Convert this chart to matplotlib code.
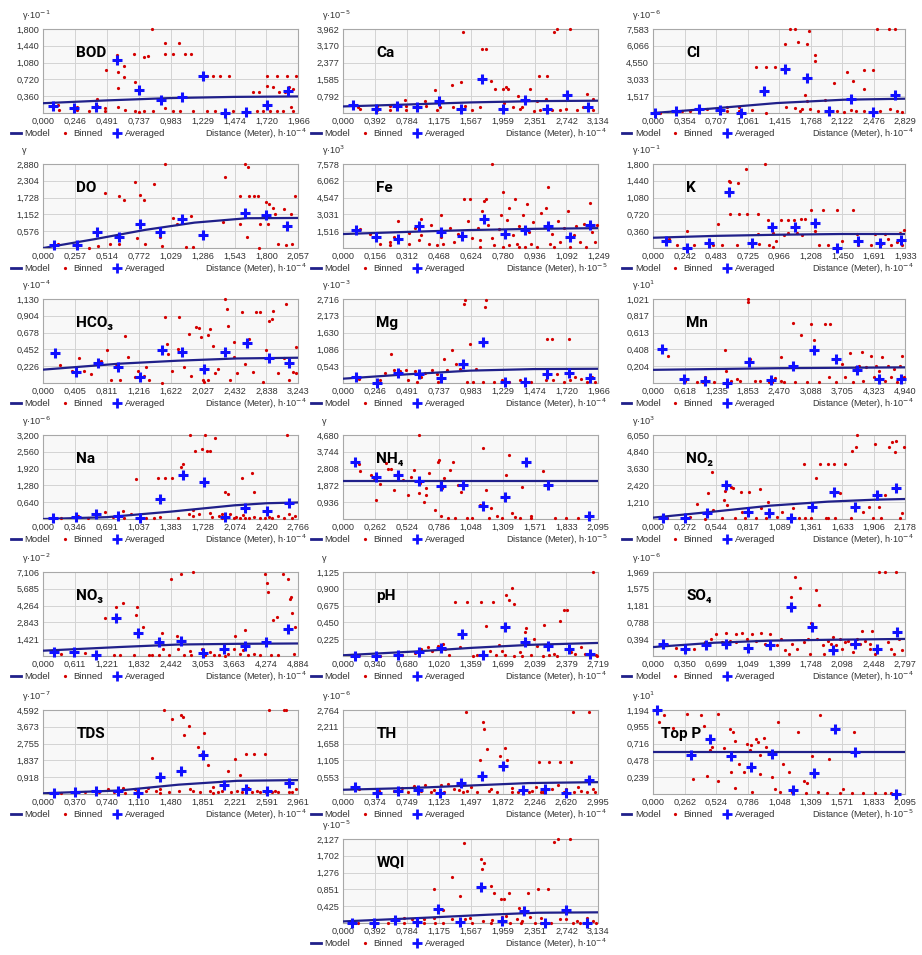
import matplotlib
matplotlib.use("Agg")
import matplotlib.pyplot as plt
from matplotlib.lines import Line2D

# =============================
# Dados (unidades escaladas como nos eixos)
# =============================
BOD_model = [(0, 0.21), (0.49, 0.27), (0.98, 0.32), (1.47, 0.345), (1.966, 0.355)]
BOD_avg = [(0.072, 0.157), (0.236, 0.107), (0.406, 0.128), (0.571, 1.138), (0.738, 0.484), (0.905, 0.285),
           (1.067, 0.342), (1.229, 0.797), (1.401, 0.0), (1.563, 0.021), (1.722, 0.178), (1.889, 0.463)]
BOD_bin = [(0.116, 0.178), (0.123, 0.071), (0.257, 0.128), (0.262, 0.071), (0.355, 0.036), (0.411, 0.299),
           (0.416, 0.142), (0.475, 0.107), (0.475, 0.050), (0.483, 0.925), (0.571, 1.245), (0.573, 0.889),
           (0.576, 0.534), (0.578, 0.128), (0.625, 1.017), (0.625, 0.761), (0.630, 0.071), (0.702, 1.266),
           (0.704, 0.655), (0.707, 0.050), (0.740, 0.014), (0.776, 1.210), (0.779, 0.036), (0.810, 1.231),
           (0.840, 1.800), (0.848, 0.036), (0.935, 1.508), (0.935, 1.266), (0.938, 0.107), (0.997, 1.266),
           (0.997, 0.036), (1.049, 1.508), (1.054, 0.050), (1.095, 1.266), (1.139, 1.266), (1.151, 0.050),
           (1.259, 0.797), (1.311, 0.797), (1.362, 0.797), (1.434, 0.797), (1.259, 0.036), (1.324, 0.036),
           (1.465, 0.036), (1.619, 0.441), (1.665, 0.441), (1.722, 0.797), (1.727, 0.583), (1.773, 0.555),
           (1.799, 0.797), (1.820, 0.441), (1.863, 0.441), (1.876, 0.797), (1.892, 0.555), (1.922, 0.512),
           (1.945, 0.797), (1.645, 0.036), (1.696, 0.036), (1.748, 0.036), (1.799, 0.036), (1.850, 0.036),
           (1.928, 0.036), (1.907, 0.121)]

CA_model = [(0, 0.31), (0.78, 0.40), (1.57, 0.50), (2.35, 0.56), (3.134, 0.58)]
CA_avg = [(0.123, 0.39), (0.401, 0.19), (0.656, 0.31), (0.910, 0.28), (1.176, 0.55), (1.442, 0.19),
          (1.700, 1.61), (1.967, 0.19), (2.233, 0.63), (2.499, 0.19), (2.753, 0.86), (3.011, 0.28)]
CA_bin = [(0.18, 0.28), (0.20, 0.19), (0.41, 0.31), (0.42, 0.13), (0.57, 0.34), (0.57, 0.13), (0.66, 0.23),
          (0.76, 0.63), (0.77, 0.31), (0.77, 0.13), (0.91, 0.19), (1.00, 0.55), (1.02, 0.31), (1.13, 1.10),
          (1.15, 0.16), (1.19, 0.28), (1.34, 1.33), (1.35, 0.28), (1.45, 1.44), (1.47, 3.84), (1.50, 0.31),
          (1.58, 0.16), (1.68, 0.28), (1.71, 3.01), (1.75, 3.01), (1.82, 1.53), (1.86, 1.13), (1.92, 0.19),
          (1.96, 1.13), (1.97, 0.47), (2.00, 1.22), (2.03, 1.13), (2.09, 0.28), (2.15, 0.81), (2.17, 0.19),
          (2.20, 0.28), (2.29, 1.13), (2.34, 0.08), (2.40, 1.75), (2.38, 0.55), (2.50, 1.75), (2.49, 0.66),
          (2.42, 0.16), (2.59, 3.84), (2.63, 3.96), (2.66, 0.16), (2.79, 3.96), (2.74, 0.19), (2.87, 0.16),
          (2.99, 0.89), (3.07, 0.66), (3.07, 0.13), (2.95, 0.28), (2.56, 0.13)]

CL_model = [(0, 0.0), (0.64, 0.39), (1.39, 0.90), (2.14, 1.20), (2.829, 1.29)]
CL_avg = [(0.02, 0.0), (0.26, 0.15), (0.51, 0.39), (0.75, 0.24), (0.99, 0.0), (1.24, 2.01),
          (1.48, 3.99), (1.73, 3.15), (1.97, 0.15), (2.22, 1.29), (2.47, 0.09), (2.71, 1.65)]
CL_bin = [(0.07, 0.0), (0.32, 0.15), (0.41, 0.21), (0.51, 0.51), (0.60, 0.39), (0.71, 0.30), (0.83, 0.51),
          (0.83, 0.15), (0.96, 0.51), (0.96, 0.15), (1.11, 0.30), (1.15, 4.11), (1.27, 4.11), (1.37, 4.11),
          (1.26, 0.0), (1.48, 6.20), (1.49, 0.51), (1.53, 7.58), (1.59, 7.58), (1.63, 6.44), (1.67, 0.39),
          (1.75, 7.40), (1.73, 6.20), (1.70, 1.59), (1.73, 1.05), (1.76, 0.39), (1.82, 5.24), (1.82, 4.65),
          (1.93, 1.20), (1.97, 0.45), (2.03, 2.70), (2.06, 0.15), (2.14, 0.09), (2.17, 3.69), (2.24, 2.85),
          (2.22, 0.30), (2.28, 0.15), (2.37, 2.19), (2.37, 3.90), (2.36, 0.15), (2.47, 3.90), (2.51, 7.58),
          (2.55, 0.15), (2.65, 7.58), (2.71, 7.58), (2.66, 0.39), (2.74, 0.15), (2.79, 0.09), (1.85, 0.15),
          (1.59, 0.45), (1.65, 0.15)]

DO_model = [(0, 0.0), (0.41, 0.30), (0.82, 0.62), (1.22, 0.87), (1.64, 1.02), (2.057, 1.03)]
DO_avg = [(0.09, 0.09), (0.27, 0.09), (0.43, 0.56), (0.61, 0.39), (0.78, 0.82), (0.94, 0.56),
          (1.12, 1.00), (1.29, 0.44), (1.63, 1.21), (1.80, 1.12), (1.97, 0.74)]
DO_bin = [(0.12, 0.15), (0.27, 0.18), (0.37, 0.01), (0.44, 0.06), (0.50, 1.89), (0.54, 0.13), (0.61, 1.79),
          (0.61, 0.15), (0.65, 1.65), (0.74, 2.28), (0.78, 1.82), (0.81, 1.65), (0.76, 0.33), (0.82, 0.13),
          (0.89, 2.20), (0.94, 0.39), (0.96, 0.08), (0.98, 2.88), (1.05, 1.03), (1.08, 0.83), (1.15, 0.04),
          (1.19, 1.11), (1.21, 0.04), (1.45, 0.88), (1.47, 2.44), (1.59, 1.79), (1.63, 2.88), (1.65, 2.79),
          (1.64, 0.39), (1.66, 1.79), (1.70, 1.79), (1.73, 1.79), (1.75, 0.83), (1.80, 1.56), (1.82, 1.50),
          (1.85, 1.38), (1.87, 1.15), (1.89, 0.15), (1.94, 1.32), (1.96, 0.09), (2.01, 0.13), (2.03, 1.79),
          (2.00, 1.15), (1.81, 0.83), (1.59, 0.83), (1.74, 0.01)]

FE_model = [(0, 1.26), (0.31, 1.45), (0.62, 1.62), (0.94, 1.73), (1.249, 1.79)]
FE_avg = [(0.06, 1.63), (0.16, 1.02), (0.27, 0.77), (0.37, 1.94), (0.48, 1.48), (0.58, 1.08),
          (0.69, 2.62), (0.79, 1.26), (0.89, 1.63), (1.00, 1.94), (1.11, 1.02), (1.21, 2.03)]
FE_bin = [(0.08, 1.69), (0.13, 1.26), (0.23, 0.55), (0.23, 0.25), (0.25, 1.02), (0.27, 2.40), (0.32, 1.32),
          (0.35, 1.79), (0.37, 0.71), (0.38, 2.62), (0.38, 1.17), (0.42, 0.40), (0.43, 2.09), (0.48, 3.02),
          (0.48, 1.02), (0.49, 0.40), (0.52, 1.79), (0.54, 0.55), (0.56, 1.26), (0.59, 4.40), (0.61, 2.40),
          (0.62, 4.40), (0.63, 0.86), (0.66, 1.79), (0.67, 0.71), (0.68, 3.33), (0.69, 4.25), (0.70, 4.40),
          (0.71, 2.09), (0.73, 7.58), (0.73, 0.86), (0.74, 0.25), (0.76, 1.69), (0.77, 3.02), (0.78, 5.02),
          (0.80, 2.56), (0.81, 0.25), (0.81, 3.63), (0.83, 1.17), (0.84, 4.40), (0.85, 0.40), (0.86, 1.94),
          (0.88, 3.02), (0.89, 0.09), (0.90, 3.94), (0.91, 1.48), (0.92, 0.40), (0.93, 2.31), (0.95, 0.09),
          (0.97, 3.17), (0.99, 3.63), (1.00, 5.48), (1.01, 0.40), (1.02, 1.26), (1.03, 0.09), (1.05, 2.40),
          (1.06, 0.55), (1.08, 1.79), (1.10, 3.33), (1.11, 0.09), (1.13, 1.17), (1.14, 1.94), (1.16, 0.55),
          (1.18, 2.19), (1.19, 0.09), (1.21, 4.10), (1.22, 1.48), (1.23, 0.55), (1.24, 2.03), (0.67, 0.09),
          (0.78, 0.09), (0.86, 0.09), (0.46, 0.25), (0.32, 0.40), (0.18, 0.40)]

K_model = [(0, 0.22), (0.48, 0.26), (0.97, 0.285), (1.45, 0.30), (1.933, 0.30)]
K_avg = [(0.10, 0.14), (0.26, 0.0), (0.43, 0.11), (0.58, 1.21), (0.76, 0.11), (0.91, 0.45),
         (1.09, 0.44), (1.24, 0.54), (1.41, 0.0), (1.57, 0.14), (1.74, 0.10), (1.90, 0.17)]
K_bin = [(0.12, 0.20), (0.26, 0.37), (0.18, 0.06), (0.31, 0.06), (0.46, 0.06), (0.50, 0.51), (0.53, 0.06),
         (0.58, 1.43), (0.59, 1.42), (0.65, 1.40), (0.59, 0.72), (0.66, 0.72), (0.72, 0.72), (0.80, 0.72),
         (0.64, 0.06), (0.71, 1.70), (0.86, 1.80), (0.81, 0.09), (0.80, 0.31), (0.88, 0.59), (0.89, 0.06),
         (0.92, 0.33), (0.94, 0.16), (0.98, 0.61), (1.00, 0.27), (1.03, 0.61), (1.03, 0.33), (1.08, 0.61),
         (1.10, 0.33), (1.13, 0.63), (1.16, 0.63), (1.14, 0.27), (1.21, 0.82), (1.30, 0.82), (1.41, 0.82),
         (1.53, 0.82), (1.24, 0.36), (1.34, 0.06), (1.45, 0.16), (1.56, 0.31), (1.57, 0.06), (1.67, 0.06),
         (1.70, 0.31), (1.75, 0.08), (1.78, 0.31), (1.80, 0.20), (1.82, 0.06), (1.87, 0.13), (1.89, 0.33),
         (1.91, 0.06), (1.92, 0.38), (1.27, 0.06), (0.92, 0.02), (0.26, 0.03)]

HCO3_model = [(0, 0.18), (0.97, 0.26), (1.71, 0.30), (2.46, 0.33), (3.243, 0.34)]
HCO3_avg = [(0.15, 0.41), (0.42, 0.15), (0.69, 0.27), (0.95, 0.21), (1.23, 0.08), (1.51, 0.45),
            (1.77, 0.42), (2.05, 0.19), (2.31, 0.42), (2.59, 0.54), (2.87, 0.33), (3.13, 0.27)]
HCO3_bin = [(0.21, 0.24), (0.37, 0.16), (0.45, 0.34), (0.52, 0.16), (0.61, 0.12), (0.73, 0.30), (0.81, 0.44),
            (0.86, 0.04), (0.93, 0.26), (0.97, 0.04), (1.04, 0.63), (1.08, 0.35), (1.16, 0.08), (1.21, 0.16),
            (1.28, 0.10), (1.30, 0.22), (1.34, 0.04), (1.51, 0.00), (1.55, 0.89), (1.57, 0.53), (1.58, 0.39),
            (1.64, 0.16), (1.71, 0.46), (1.73, 0.89), (1.79, 0.21), (1.85, 0.66), (1.88, 0.10), (1.94, 0.76),
            (1.98, 0.74), (2.01, 0.62), (2.03, 0.04), (2.05, 0.01), (2.10, 0.64), (2.12, 0.73), (2.16, 0.50),
            (2.18, 0.13), (2.22, 0.19), (2.31, 1.13), (2.33, 1.00), (2.35, 0.77), (2.37, 0.04), (2.42, 0.35),
            (2.46, 0.13), (2.53, 0.95), (2.57, 0.26), (2.61, 0.59), (2.67, 0.15), (2.70, 0.95), (2.76, 0.95),
            (2.80, 0.01), (2.83, 0.44), (2.87, 0.83), (2.91, 0.86), (2.92, 0.97), (2.98, 0.13), (3.06, 0.33),
            (3.09, 1.06), (3.13, 0.04), (3.17, 0.15), (3.21, 0.48), (3.22, 0.13), (2.42, 0.55), (2.09, 0.04)]

MG_model = [(0, 0.14), (0.49, 0.28), (0.98, 0.40), (1.47, 0.45), (1.966, 0.46)]
MG_avg = [(0.10, 0.21), (0.26, 0.0), (0.42, 0.32), (0.58, 0.28), (0.75, 0.16), (0.92, 0.60),
          (1.08, 1.32), (1.25, 0.03), (1.40, 0.03), (1.57, 0.30), (1.74, 0.32), (1.90, 0.16)]
MG_bin = [(0.12, 0.14), (0.28, 0.11), (0.32, 0.32), (0.37, 0.94), (0.39, 0.41), (0.44, 0.39), (0.48, 0.43),
          (0.50, 0.09), (0.55, 0.39), (0.60, 0.19), (0.63, 0.32), (0.68, 0.43), (0.72, 0.28), (0.73, 0.03),
          (0.78, 0.78), (0.80, 0.41), (0.84, 1.07), (0.87, 0.62), (0.90, 0.46), (0.93, 2.55), (0.94, 2.68),
          (0.98, 1.27), (1.00, 0.03), (1.02, 0.46), (1.09, 2.47), (1.10, 2.68), (1.08, 0.03), (1.16, 0.03),
          (1.22, 0.09), (1.28, 0.03), (1.36, 0.09), (1.45, 0.03), (1.56, 0.09), (1.57, 1.43), (1.61, 1.43),
          (1.62, 0.09), (1.65, 0.30), (1.70, 0.03), (1.74, 1.43), (1.75, 0.09), (1.79, 0.19), (1.83, 0.14),
          (1.88, 0.03), (1.92, 0.19), (1.94, 0.03), (0.95, 0.03), (0.57, 0.03)]

MN_model = [(0, 0.16), (1.24, 0.17), (2.47, 0.18), (3.71, 0.185), (4.94, 0.19)]
MN_avg = [(0.17, 0.41), (0.60, 0.05), (1.02, 0.02), (1.44, 0.0), (1.87, 0.25), (2.31, 0.04),
          (2.73, 0.21), (3.15, 0.40), (3.58, 0.29), (4.00, 0.16), (4.43, 0.05), (4.85, 0.05)]
MN_bin = [(0.28, 0.33), (0.62, 0.03), (0.85, 0.01), (1.02, 0.07), (1.19, 0.01), (1.40, 0.40), (1.42, 0.15),
          (1.53, 0.02), (1.70, 0.02), (1.85, 1.02), (1.85, 0.99), (1.90, 0.29), (1.99, 0.02), (2.10, 0.03),
          (2.27, 0.01), (2.39, 0.06), (2.50, 0.31), (2.56, 0.01), (2.73, 0.73), (2.78, 0.01), (2.90, 0.58),
          (3.01, 0.01), (3.10, 0.72), (3.15, 0.52), (3.24, 0.01), (3.37, 0.72), (3.46, 0.72), (3.44, 0.07),
          (3.58, 0.01), (3.69, 0.23), (3.75, 0.07), (3.86, 0.36), (3.92, 0.01), (3.97, 0.19), (4.03, 0.21),
          (4.09, 0.38), (4.12, 0.03), (4.17, 0.20), (4.26, 0.33), (4.32, 0.07), (4.37, 0.21), (4.43, 0.15),
          (4.49, 0.31), (4.54, 0.03), (4.60, 0.21), (4.66, 0.07), (4.71, 0.17), (4.77, 0.01), (4.83, 0.21),
          (4.88, 0.33), (4.92, 0.07), (2.33, 0.01), (2.50, 0.03), (0.97, 0.01), (1.65, 0.05)]

NA_model = [(0, 0.0), (0.69, 0.07), (1.38, 0.28), (2.07, 0.52), (2.42, 0.60), (2.766, 0.63)]
NA_avg = [(0.11, 0.03), (0.35, 0.09), (0.57, 0.18), (0.81, 0.13), (1.05, 0.03), (1.27, 0.76),
          (1.51, 1.68), (1.74, 1.42), (1.97, 0.09), (2.19, 0.43), (2.43, 0.30), (2.67, 0.60)]
NA_bin = [(0.19, 0.05), (0.38, 0.13), (0.48, 0.05), (0.57, 0.22), (0.67, 0.28), (0.76, 0.09), (0.86, 0.30),
          (0.88, 0.05), (0.95, 0.18), (1.02, 0.05), (1.00, 1.52), (1.11, 0.05), (1.20, 0.03), (1.24, 1.55),
          (1.32, 1.55), (1.40, 1.55), (1.46, 0.05), (1.49, 1.99), (1.51, 2.08), (1.58, 0.18), (1.59, 3.20),
          (1.62, 0.13), (1.65, 2.59), (1.69, 0.18), (1.75, 3.20), (1.77, 2.59), (1.72, 2.67), (1.81, 2.59),
          (1.81, 0.22), (1.83, 0.09), (1.86, 3.10), (1.91, 0.13), (1.94, 0.05), (1.97, 1.04), (2.00, 0.94),
          (2.03, 0.18), (2.07, 0.05), (2.09, 0.09), (2.13, 0.03), (2.16, 1.55), (2.17, 0.15), (2.19, 0.05),
          (2.23, 0.03), (2.26, 1.74), (2.28, 1.04), (2.29, 0.09), (2.35, 0.05), (2.40, 0.03), (2.45, 0.09),
          (2.48, 0.03), (2.54, 0.13), (2.61, 0.05), (2.64, 3.20), (2.67, 0.18), (2.70, 0.03), (2.73, 0.13),
          (1.94, 0.18), (1.62, 0.34), (1.27, 0.09)]

NH4_model = [(0, 2.13), (2.095, 2.13)]
NH4_avg = [(0.10, 3.16), (0.27, 2.36), (0.45, 2.45), (0.62, 2.12), (0.80, 1.86), (0.98, 1.89),
           (1.15, 0.74), (1.33, 1.24), (1.50, 3.19), (1.68, 1.89), (2.02, 0.19)]
NH4_bin = [(0.13, 3.05), (0.14, 2.67), (0.23, 2.45), (0.25, 2.30), (0.27, 1.06), (0.30, 1.93), (0.35, 3.10),
           (0.37, 2.79), (0.39, 2.79), (0.42, 1.62), (0.45, 2.54), (0.49, 2.17), (0.53, 1.34), (0.56, 2.36),
           (0.58, 2.73), (0.62, 4.68), (0.63, 1.99), (0.66, 0.97), (0.68, 1.71), (0.70, 2.54), (0.75, 0.50),
           (0.78, 3.19), (0.79, 3.29), (0.80, 0.19), (0.81, 1.75), (0.83, 2.30), (0.86, 0.04), (0.88, 2.73),
           (0.90, 3.16), (0.92, 0.07), (0.94, 1.89), (0.97, 1.49), (1.02, 0.07), (1.06, 0.04), (1.12, 0.78),
           (1.15, 3.94), (1.17, 1.62), (1.20, 0.04), (1.21, 0.59), (1.26, 0.19), (1.30, 0.07), (1.34, 2.45),
           (1.36, 3.57), (1.39, 0.32), (1.41, 0.13), (1.47, 1.80), (1.54, 0.19), (1.64, 2.67), (1.74, 0.07),
           (1.83, 0.07), (1.93, 0.07), (2.01, 0.19), (1.54, 0.07), (1.45, 0.07), (0.62, 1.43), (0.68, 1.34)]

NO2_model = [(0, 0.10), (0.52, 0.53), (1.01, 0.96), (1.51, 1.25), (1.91, 1.39), (2.178, 1.44)]
NO2_avg = [(0.08, 0.05), (0.27, 0.10), (0.46, 0.41), (0.63, 2.45), (0.82, 0.53), (1.00, 0.41),
           (1.19, 0.05), (1.37, 0.89), (1.56, 1.92), (1.74, 0.89), (1.93, 1.73), (2.10, 2.21)]
NO2_bin = [(0.12, 0.10), (0.32, 0.17), (0.38, 1.06), (0.45, 0.0), (0.47, 1.85), (0.51, 3.36), (0.52, 0.65),
           (0.59, 0.05), (0.61, 1.37), (0.62, 2.02), (0.64, 1.01), (0.67, 2.33), (0.69, 2.21), (0.71, 0.05),
           (0.76, 1.97), (0.79, 0.05), (0.83, 1.97), (0.89, 0.05), (0.92, 2.16), (0.93, 0.77), (0.97, 0.05),
           (0.99, 1.20), (1.07, 0.17), (1.11, 0.53), (1.16, 0.05), (1.21, 0.82), (1.26, 0.05), (1.30, 3.94),
           (1.36, 0.05), (1.41, 2.98), (1.44, 3.94), (1.49, 0.05), (1.51, 3.94), (1.56, 3.94), (1.57, 0.05),
           (1.61, 1.85), (1.66, 3.94), (1.71, 0.05), (1.72, 4.90), (1.75, 5.21), (1.76, 6.05), (1.81, 0.53),
           (1.86, 0.89), (1.90, 0.05), (1.92, 5.38), (1.95, 0.89), (1.97, 0.05), (2.00, 1.73), (2.04, 5.21),
           (2.06, 5.57), (2.09, 4.85), (2.10, 5.62), (2.13, 0.10), (2.15, 0.41), (2.17, 5.21), (1.51, 0.05),
           (1.31, 0.05), (0.77, 0.53)]

NO3_model = [(0, 0.45), (1.46, 0.76), (2.58, 0.97), (3.70, 1.03), (4.884, 1.06)]
NO3_avg = [(0.20, 0.30), (0.58, 0.30), (1.01, 0.09), (1.40, 3.24), (1.82, 1.97), (2.22, 1.21),
           (2.64, 1.27), (3.05, 0.24), (3.46, 0.60), (3.87, 0.82), (4.27, 1.15), (4.69, 2.27)]
NO3_bin = [(0.34, 0.15), (0.79, 0.24), (1.18, 3.18), (1.35, 0.06), (1.40, 4.17), (1.46, 0.06), (1.52, 4.48),
           (1.74, 0.06), (1.77, 3.48), (1.80, 4.17), (1.82, 1.97), (1.91, 2.48), (2.08, 0.06), (2.22, 0.06),
           (2.27, 1.97), (2.30, 0.60), (2.41, 0.06), (2.45, 6.50), (2.56, 1.66), (2.58, 0.60), (2.64, 6.95),
           (2.69, 0.06), (2.83, 0.06), (2.86, 7.10), (3.03, 0.60), (3.09, 0.06), (3.20, 0.36), (3.26, 0.06),
           (3.37, 0.06), (3.54, 0.15), (3.65, 0.60), (3.68, 1.66), (3.76, 0.15), (3.82, 0.54), (3.87, 2.18),
           (3.93, 0.06), (4.04, 0.15), (4.24, 6.95), (4.29, 6.20), (4.31, 5.44), (4.36, 0.06), (4.40, 3.02),
           (4.47, 3.33), (4.60, 6.95), (4.69, 6.50), (4.72, 4.84), (4.74, 4.99), (4.77, 3.63), (4.81, 0.15),
           (4.83, 2.42), (3.48, 0.0), (4.15, 0.06), (4.49, 0.06), (2.02, 0.06), (2.81, 0.45)]

PH_model = [(0, 0.01), (0.76, 0.06), (1.38, 0.11), (2.00, 0.15), (2.719, 0.175)]
PH_avg = [(0.12, 0.0), (0.35, 0.0), (0.58, 0.02), (0.81, 0.06), (1.04, 0.11), (1.27, 0.29),
          (1.49, 0.02), (1.72, 0.39), (1.94, 0.19), (2.18, 0.13), (2.41, 0.10), (2.63, 0.03)]
PH_bin = [(0.17, 0.01), (0.39, 0.0), (0.63, 0.02), (0.76, 0.04), (0.83, 0.10), (0.90, 0.12), (0.95, 0.07),
          (1.01, 0.14), (1.06, 0.16), (1.08, 0.10), (1.13, 0.02), (1.19, 0.72), (1.24, 0.12), (1.32, 0.72),
          (1.38, 0.0), (1.43, 0.02), (1.47, 0.72), (1.52, 0.40), (1.56, 0.07), (1.60, 0.72), (1.63, 0.02),
          (1.66, 0.15), (1.69, 0.07), (1.72, 0.02), (1.74, 0.82), (1.77, 0.75), (1.80, 0.91), (1.82, 0.69),
          (1.88, 0.05), (1.91, 0.0), (1.94, 0.32), (1.95, 0.37), (2.00, 0.02), (2.03, 0.23), (2.07, 0.14),
          (2.14, 0.42), (2.19, 0.02), (2.25, 0.03), (2.31, 0.47), (2.35, 0.61), (2.39, 0.61), (2.43, 0.05),
          (2.47, 0.03), (2.53, 0.12), (2.58, 0.03), (2.63, 0.02), (2.66, 1.125), (2.69, 0.02), (2.70, 0.0),
          (2.28, 0.0), (2.13, 0.0), (1.82, 0.0)]

SO4_model = [(0, 0.21), (0.67, 0.31), (1.30, 0.36), (1.94, 0.38), (2.797, 0.40)]
SO4_avg = [(0.11, 0.28), (0.35, 0.17), (0.58, 0.25), (0.81, 0.28), (1.05, 0.19), (1.29, 0.26),
           (1.53, 1.15), (1.76, 0.67), (2.00, 0.13), (2.24, 0.28), (2.48, 0.17), (2.70, 0.57)]
SO4_bin = [(0.15, 0.26), (0.25, 0.18), (0.45, 0.17), (0.57, 0.32), (0.64, 0.41), (0.70, 0.51), (0.76, 0.32),
           (0.81, 0.54), (0.85, 0.34), (0.92, 0.51), (0.99, 0.54), (1.04, 0.40), (1.10, 0.51), (1.14, 0.36),
           (1.19, 0.54), (1.24, 0.28), (1.30, 0.51), (1.37, 0.25), (1.42, 0.40), (1.46, 0.13), (1.51, 0.05),
           (1.53, 1.38), (1.54, 0.28), (1.57, 1.85), (1.59, 0.17), (1.63, 1.59), (1.67, 0.32), (1.72, 0.40),
           (1.75, 0.78), (1.81, 1.55), (1.84, 1.20), (1.82, 0.40), (1.88, 0.25), (1.89, 0.05), (1.94, 0.36),
           (1.97, 0.28), (2.00, 0.44), (2.03, 0.25), (2.07, 0.40), (2.10, 0.17), (2.13, 0.32), (2.16, 0.36),
           (2.19, 0.28), (2.22, 0.09), (2.26, 0.40), (2.29, 0.28), (2.32, 0.59), (2.35, 0.36), (2.40, 0.17),
           (2.43, 0.59), (2.46, 0.05), (2.51, 1.969), (2.57, 1.969), (2.61, 0.32), (2.64, 0.17), (2.67, 0.05),
           (2.69, 1.969), (2.73, 0.40), (2.76, 0.13), (2.40, 0.28), (1.74, 0.05), (0.92, 0.32)]

TDS_model = [(0, 0.04), (0.88, 0.19), (1.57, 0.51), (2.25, 0.72), (2.961, 0.76)]
TDS_avg = [(0.12, 0.04), (0.37, 0.09), (0.61, 0.19), (0.87, 0.19), (1.10, 0.04), (1.35, 0.95),
           (1.60, 1.23), (1.85, 2.13), (2.10, 0.47), (2.35, 0.28), (2.60, 0.19), (2.85, 0.61)]
TDS_bin = [(0.20, 0.06), (0.48, 0.13), (0.65, 0.13), (0.75, 0.25), (0.82, 0.09), (0.92, 0.32), (0.95, 0.06),
           (1.06, 0.28), (1.09, 0.09), (1.19, 0.19), (1.21, 0.32), (1.26, 1.99), (1.31, 0.19), (1.36, 0.28),
           (1.40, 4.59), (1.46, 0.13), (1.50, 4.12), (1.57, 0.19), (1.60, 4.31), (1.62, 4.23), (1.63, 3.23),
           (1.69, 3.70), (1.70, 0.28), (1.74, 0.19), (1.80, 2.56), (1.82, 0.13), (1.84, 2.18), (1.87, 3.36),
           (1.91, 1.61), (1.94, 0.19), (1.97, 0.38), (2.03, 0.09), (2.08, 0.19), (2.14, 1.23), (2.18, 0.09),
           (2.23, 1.90), (2.25, 0.19), (2.28, 1.04), (2.31, 0.09), (2.35, 2.18), (2.38, 0.32), (2.42, 0.09),
           (2.45, 2.18), (2.48, 0.19), (2.52, 0.09), (2.57, 2.18), (2.59, 0.13), (2.62, 4.59), (2.65, 0.09),
           (2.69, 0.19), (2.72, 0.09), (2.79, 4.59), (2.82, 4.59), (2.85, 0.13), (2.89, 0.09), (2.93, 0.28),
           (1.36, 0.04), (1.97, 0.04)]

TH_model = [(0, 0.14), (0.83, 0.20), (1.50, 0.28), (2.18, 0.36), (2.995, 0.39)]
TH_avg = [(0.14, 0.23), (0.39, 0.03), (0.64, 0.11), (0.88, 0.14), (1.13, 0.03), (1.38, 0.36),
          (1.63, 0.59), (1.88, 0.93), (2.11, 0.14), (2.37, 0.17), (2.62, 0.03), (2.89, 0.45)]
TH_bin = [(0.18, 0.17), (0.42, 0.09), (0.59, 0.11), (0.69, 0.20), (0.76, 0.06), (0.83, 0.25), (0.91, 0.11),
          (0.96, 0.28), (1.06, 0.14), (1.15, 0.28), (1.18, 0.06), (1.23, 0.34), (1.30, 0.17), (1.36, 0.14),
          (1.40, 0.06), (1.44, 2.71), (1.45, 0.11), (1.50, 0.23), (1.57, 0.06), (1.61, 1.13), (1.64, 2.37),
          (1.65, 2.14), (1.69, 1.47), (1.71, 0.11), (1.74, 0.17), (1.81, 0.06), (1.84, 1.24), (1.90, 1.52),
          (1.92, 1.13), (1.98, 0.20), (2.05, 0.06), (2.11, 0.17), (2.18, 0.06), (2.22, 0.11), (2.26, 0.23),
          (2.30, 1.04), (2.35, 0.06), (2.42, 1.04), (2.45, 0.17), (2.52, 0.28), (2.55, 1.04), (2.59, 0.06),
          (2.62, 0.17), (2.67, 1.04), (2.71, 0.06), (2.76, 0.23), (2.79, 0.11), (2.70, 2.71), (2.86, 0.06),
          (2.89, 2.71), (2.93, 0.17), (2.96, 0.06), (2.32, 0.06), (1.98, 0.06), (1.03, 0.06)]

TOPP_model = [(0, 0.60), (2.095, 0.60)]
TOPP_avg = [(0.03, 1.19), (0.31, 0.55), (0.47, 0.78), (0.65, 0.54), (0.81, 0.39), (0.99, 0.57),
            (1.16, 0.06), (1.34, 0.30), (1.51, 0.92), (1.68, 0.60), (2.02, 0.0)]
TOPP_bin = [(0.05, 1.03), (0.16, 0.94), (0.09, 1.12), (0.28, 1.14), (0.33, 0.22), (0.40, 1.12), (0.42, 0.97),
            (0.54, 1.14), (0.45, 0.26), (0.47, 0.63), (0.49, 0.67), (0.59, 0.65), (0.54, 0.18), (0.64, 0.93),
            (0.66, 0.88), (0.65, 0.31), (0.68, 0.75), (0.68, 0.09), (0.71, 0.43), (0.75, 0.31), (0.78, 0.71),
            (0.80, 0.63), (0.81, 0.69), (0.82, 0.03), (0.85, 0.78), (0.87, 0.74), (0.89, 0.29), (0.89, 0.56),
            (0.92, 0.80), (0.94, 0.67), (0.99, 0.24), (1.01, 0.07), (1.04, 1.03), (1.05, 0.03), (1.08, 0.43),
            (1.13, 0.31), (1.15, 0.03), (1.20, 0.88), (1.25, 0.18), (1.27, 0.02), (1.28, 0.16), (1.32, 0.54),
            (1.39, 1.12), (1.37, 0.03), (1.44, 0.02), (1.46, 0.50), (1.55, 0.02), (1.58, 0.07), (1.65, 0.02),
            (1.67, 0.88), (1.74, 0.02), (1.84, 0.02), (1.93, 0.02), (1.98, 0.02)]

WQI_model = [(0, 0.04), (0.97, 0.13), (1.78, 0.21), (2.39, 0.26), (3.134, 0.27)]
WQI_avg = [(0.11, 0.0), (0.38, 0.0), (0.64, 0.07), (0.90, 0.02), (1.16, 0.36), (1.43, 0.02),
           (1.69, 0.90), (1.95, 0.04), (2.22, 0.30), (2.48, 0.0), (2.74, 0.34), (3.00, 0.0)]
WQI_bin = [(0.18, 0.0), (0.40, 0.0), (0.55, 0.0), (0.64, 0.10), (0.75, 0.13), (0.75, 0.0), (0.85, 0.09),
           (0.99, 0.10), (0.99, 0.0), (1.11, 0.87), (1.11, 0.13), (1.13, 0.0), (1.22, 0.34), (1.23, 0.0),
           (1.33, 1.16), (1.33, 0.09), (1.44, 0.69), (1.48, 2.02), (1.49, 0.09), (1.56, 0.13), (1.58, 0.0),
           (1.69, 1.63), (1.70, 1.36), (1.72, 0.04), (1.73, 1.53), (1.81, 0.93), (1.83, 0.07), (1.85, 0.75),
           (1.94, 0.60), (1.95, 0.15), (1.97, 0.60), (2.00, 0.17), (2.04, 0.75), (2.05, 0.0), (2.16, 0.39),
           (2.20, 0.04), (2.27, 0.75), (2.30, 0.15), (2.35, 0.0), (2.39, 0.87), (2.43, 0.13), (2.51, 0.87),
           (2.55, 0.0), (2.59, 2.04), (2.64, 2.127), (2.66, 0.09), (2.74, 0.09), (2.79, 2.127), (2.82, 0.0),
           (2.87, 0.04), (2.99, 0.13), (3.01, 0.0), (3.07, 0.04), (3.11, 0.0), (2.18, 0.0), (2.14, 0.09),
           (1.82, 0.0), (2.43, 0.0), (2.91, 0.0)]

# nome, expoente de gamma, expoente de h, x máximo, y máximo, modelo, médias, binned
PANELS = [
    ("BOD", "-1", "-4", 1.9658, 1.800, BOD_model, BOD_avg, BOD_bin),
    ("Ca", "-5", "-4", 3.134, 3.962, CA_model, CA_avg, CA_bin),
    ("Cl", "-6", "-4", 2.8292, 7.583, CL_model, CL_avg, CL_bin),
    ("DO", "", "-4", 2.0574, 2.880, DO_model, DO_avg, DO_bin),
    ("Fe", "3", "-5", 1.2485, 7.578, FE_model, FE_avg, FE_bin),
    ("K", "-1", "-4", 1.9328, 1.800, K_model, K_avg, K_bin),
    ("HCO\u2083", "-4", "-4", 3.243, 1.130, HCO3_model, HCO3_avg, HCO3_bin),
    ("Mg", "-3", "-4", 1.9658, 2.716, MG_model, MG_avg, MG_bin),
    ("Mn", "1", "-4", 4.940, 1.021, MN_model, MN_avg, MN_bin),
    ("Na", "-6", "-4", 2.76555, 3.200, NA_model, NA_avg, NA_bin),
    ("NH\u2084", "", "-5", 2.095, 4.680, NH4_model, NH4_avg, NH4_bin),
    ("NO\u2082", "3", "-4", 2.1778, 6.050, NO2_model, NO2_avg, NO2_bin),
    ("NO\u2083", "-2", "-4", 4.884, 7.1064, NO3_model, NO3_avg, NO3_bin),
    ("pH", "", "-4", 2.7188, 1.125, PH_model, PH_avg, PH_bin),
    ("SO\u2084", "-6", "-4", 2.7972, 1.969, SO4_model, SO4_avg, SO4_bin),
    ("TDS", "-7", "-4", 2.96082, 4.59155, TDS_model, TDS_avg, TDS_bin),
    ("TH", "-6", "-4", 2.9948, 2.76355, TH_model, TH_avg, TH_bin),
    ("Top P", "1", "-5", 2.095, 1.194, TOPP_model, TOPP_avg, TOPP_bin),
    ("WQI", "-5", "-4", 3.134, 2.127, WQI_model, WQI_avg, WQI_bin),
]

# =============================
# Layout (pixels da figura 922x955)
# =============================
W, H = 922, 955
COL_LEFT = [43.3, 343.3, 653.3]
COL_WIDTH = [255, 255, 252]
ROW_BOTTOM = [113, 248, 383, 519, 656, 794, 923]
AX_H = 84

NAVY = "#20208a"
RED = "#d40000"
BLUE = "#1010ff"

plt.rcParams["font.family"] = ["Liberation Sans", "DejaVu Sans"]


def fmt(v):
    return f"{v + 1e-7:.3f}".replace(".", ",")


fig = plt.figure(figsize=(W / 100, H / 100), dpi=100)

for i, (name, gexp, hexp, xmax, ymax, model, avg, binned) in enumerate(PANELS):
    if i < 18:
        row, col = i // 3, i % 3
    else:
        row, col = 6, 1
    left = COL_LEFT[col] / W
    bottom = 1 - ROW_BOTTOM[row] / H
    ax = fig.add_axes([left, bottom, COL_WIDTH[col] / W, AX_H / H])
    ax.set_facecolor("#f8f8f8")

    bx, by = zip(*binned)
    ax.plot(bx, by, "o", color=RED, ms=2.3, mew=0, clip_on=False, zorder=3)
    mx, my = zip(*model)
    ax.plot(mx, my, color=NAVY, lw=1.6, zorder=4)
    ax_, ay_ = zip(*avg)
    ax.plot(ax_, ay_, "+", color=BLUE, ms=7.5, mew=2.2, clip_on=False, zorder=5)

    ax.set_xlim(0, xmax)
    ax.set_ylim(0, ymax)
    xt = [xmax * k / 8 for k in range(9)]
    yt = [ymax * k / 5 for k in range(1, 6)]
    ax.set_xticks(xt)
    ax.set_xticklabels([fmt(v) for v in xt])
    ax.set_yticks(yt)
    ax.set_yticklabels([fmt(v) for v in yt])
    ax.tick_params(length=0, labelsize=6.6, pad=3, colors="#333333")
    ax.grid(color="#d3d3d3", lw=0.7)
    ax.set_axisbelow(True)
    for s in ax.spines.values():
        s.set_color("#a8a8a8")
        s.set_linewidth(0.8)
        s.set_zorder(1.5)

    # nome do parâmetro
    nx = 0.03 if name == "Top P" else 0.13
    ax.text(nx, 0.72, name, transform=ax.transAxes, fontsize=11, fontweight="bold",
            family=["Roboto", "DejaVu Sans"], ha="left", va="center", zorder=6)

    # rótulo gamma
    glabel = "\u03b3" if gexp == "" else "\u03b3\u00b710$^{%s}$" % gexp
    ax.text(-0.085, 1.16, glabel, transform=ax.transAxes, fontsize=6.6,
            ha="left", va="center", color="#333333")

    # legenda
    handles = [
        Line2D([], [], color=NAVY, lw=2),
        Line2D([], [], marker="o", ls="", color=RED, ms=2.3, mew=0),
        Line2D([], [], marker="+", ls="", color=BLUE, ms=7, mew=2),
    ]
    ax.legend(handles, ["Model", "Binned", "Averaged"], loc="center left",
              bbox_to_anchor=(-0.125, -0.245), ncol=3, frameon=False, fontsize=6.8,
              handlelength=1.0, handletextpad=0.4, columnspacing=1.0,
              borderpad=0, borderaxespad=0, labelcolor="#333333")
    ax.text(1.035, -0.245, "Distance (Meter), h\u00b710$^{%s}$" % hexp, transform=ax.transAxes,
            fontsize=6.6, ha="right", va="center", color="#333333")

fig.savefig("out.png", dpi=100)
plt.close(fig)
